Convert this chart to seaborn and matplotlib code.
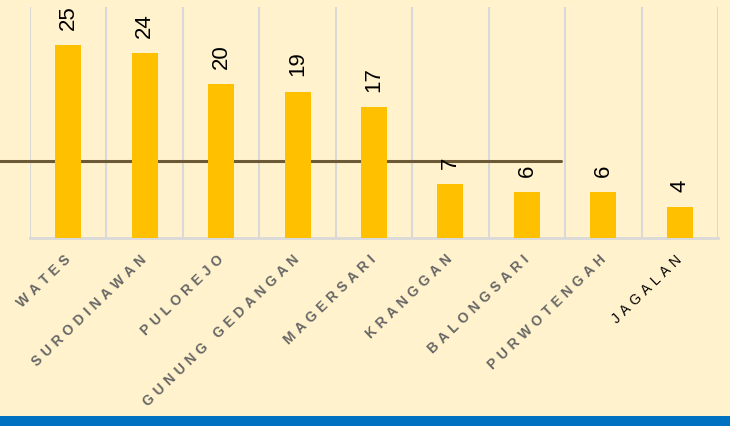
import matplotlib
matplotlib.use("Agg")
import matplotlib.pyplot as plt
import matplotlib.transforms as mtransforms
from matplotlib.patches import Rectangle
import seaborn as sns

# Data
villages = ['WATES', 'SURODINAWAN', 'PULOREJO', 'GUNUNG GEDANGAN', 'MAGERSARI',
            'KRANGGAN', 'BALONGSARI', 'PURWOTENGAH', 'JAGALAN']
counts = [25, 24, 20, 19, 17, 7, 6, 6, 4]
ref_value = 10

bg = '#FFF2CC'
bar_color = '#FFC000'
grid_color = '#D9D9D9'

sns.set_style('white')
plt.rcParams['font.family'] = ['Liberation Sans', 'DejaVu Sans']

fig = plt.figure(figsize=(7.3, 4.26), dpi=100, facecolor=bg)
ax = fig.add_axes([30 / 730, 1 - 238 / 426, 688 / 730, 231 / 426])
ax.set_facecolor(bg)

sns.barplot(x=villages, y=counts, color=bar_color, width=0.34, saturation=1,
            linewidth=0, edgecolor='none', zorder=3, ax=ax)

ax.set_ylim(0, 30)
ax.set_xlim(-0.5, len(villages) - 0.5)
ax.set_yticks([])
ax.set_xlabel('')
ax.set_ylabel('')

# vertical gridlines at category boundaries
for b in range(len(villages) + 1):
    ax.axvline(b - 0.5, color=grid_color, lw=1.5, zorder=0)

for s in ['top', 'left', 'right']:
    ax.spines[s].set_visible(False)
ax.spines['bottom'].set_color(grid_color)
ax.spines['bottom'].set_linewidth(2)

# value labels
ax.bar_label(ax.containers[0], rotation=90, padding=11, fontsize=16, color='black')

# spaced-out tick labels
spaced = ['\u2004'.join(list(v)) for v in villages]
ax.set_xticks(range(len(villages)))
ax.set_xticklabels(spaced, rotation=44, ha='right', va='center',
                   rotation_mode='anchor', fontsize=10, fontweight='bold', color='#666666')
ax.tick_params(axis='x', length=0, pad=14)
last = ax.get_xticklabels()[-1]
last.set_color('black')
last.set_fontweight('normal')

# reference line
trans = mtransforms.blended_transform_factory(fig.transFigure, ax.transData)
ax.plot([0, 561 / 730], [ref_value, ref_value], color='#6B5A35', lw=2.2,
        transform=trans, clip_on=False, zorder=1)

# blue strip at bottom
fig.add_artist(Rectangle((0, 0), 1, 10 / 426, transform=fig.transFigure,
                         facecolor='#0070C0', edgecolor='none', zorder=10))

fig.savefig('out.png', dpi=100, facecolor=bg)
